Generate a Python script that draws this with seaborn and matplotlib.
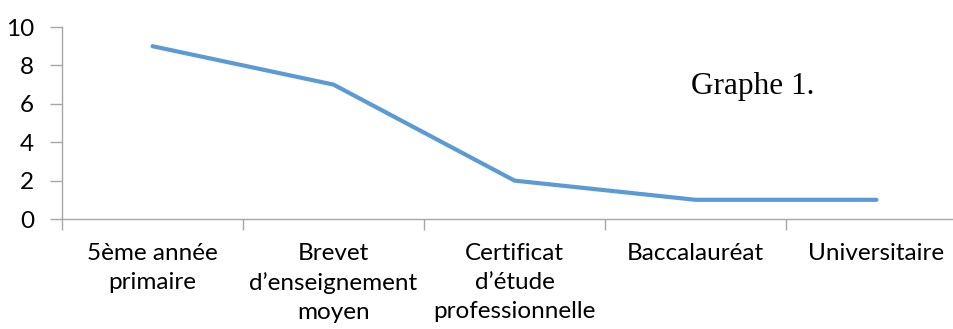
import numpy as np
import pandas as pd
import seaborn as sns
import matplotlib.pyplot as plt
from matplotlib.ticker import FixedLocator

# data
categories = [
    "5ème année\nprimaire",
    "Brevet\nd’enseignement\nmoyen",
    "Certificat\nd’étude\nprofessionnelle",
    "Baccalauréat",
    "Universitaire",
]
values = [9, 7, 2, 1, 1]
y_ticks = [0, 2, 4, 6, 8, 10]

df = pd.DataFrame({"niveau": categories, "effectif": values})

sns.set_style("white")
plt.rcParams["font.family"] = ["Lato", "DejaVu Sans"]

fig = plt.figure(figsize=(9.54, 3.29), dpi=100)
# axis runs past the right edge of the picture, like the cropped original
ax = fig.add_axes([62 / 954, 110 / 329, 905 / 954, 192 / 329])

sns.lineplot(data=df, x="niveau", y="effectif", ax=ax, color="#5B9BD5",
             linewidth=3, solid_capstyle="round", sort=False)

axis_grey = "#A6A6A6"
ax.set_xlim(-0.5, len(categories) - 0.5)
ax.set_ylim(0, 10)
ax.set_yticks(y_ticks)
ax.set_xticks(range(len(categories)))
ax.set_xticklabels(categories, linespacing=1.47)
ax.xaxis.set_minor_locator(FixedLocator(np.arange(-0.5, len(categories), 1)))

ax.tick_params(axis="x", which="major", bottom=True, length=0, pad=17,
               labelsize=17.5, colors="black")
ax.tick_params(axis="x", which="minor", bottom=True, length=8, width=1,
               color=axis_grey, direction="out")
ax.tick_params(axis="y", left=True, length=9, width=1, color=axis_grey, direction="out",
               pad=11, labelsize=17.5, labelcolor="black")

for side in ["top", "right"]:
    ax.spines[side].set_visible(False)
for side in ["left", "bottom"]:
    ax.spines[side].set_color(axis_grey)
    ax.spines[side].set_linewidth(1)

ax.set_xlabel("")
ax.set_ylabel("")

fig.text(753 / 954, 1 - 87 / 329, "Graphe 1.", family="Liberation Serif",
         fontsize=22.5, color="black", ha="center", va="center")

fig.savefig("out.png", dpi=100)
